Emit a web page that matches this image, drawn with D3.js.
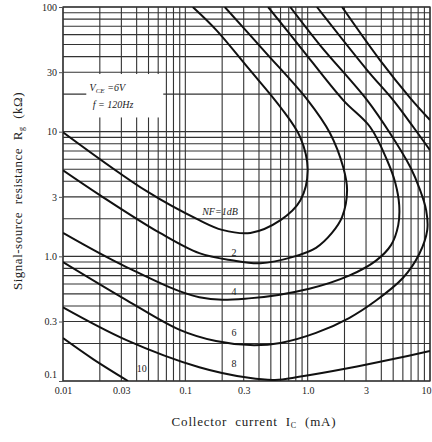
<!DOCTYPE html>
<html>
<head>
    <title>NF contours</title>
    <script src="https://d3js.org/d3.v7.min.js"></script>
    <style>
        body { margin: 0; background: #fff; }
        text { font-family: "Liberation Serif", "DejaVu Serif", serif; fill: #222; }
    </style>
</head>
<body>
<svg width="432" height="442"></svg>
<script>
    // tick labels
    const xTickVals = [0.01, 0.03, 0.1, 0.3, 1, 3, 10];
    const xTickText = ["0.01", "0.03", "0.1", "0.3", "1.0", "3", "10"];
    const yTickVals = [0.1, 0.3, 1, 3, 10, 30, 100];
    const yTickText = ["0.1", "0.3", "1.0", "3", "10", "30", "100"];

    // contour branches: [Ic (mA), Rg (kOhm)]
    const nf1 = [[0.01, 9.9], [0.049, 3.3], [0.13, 1.95], [0.2, 1.63], [0.34, 1.54], [0.6, 1.95],
        [0.87, 2.8], [1.0, 4.9], [0.87, 9.0], [0.6, 15.7], [0.33, 32], [0.18, 65], [0.115, 100]];
    const nf2 = [[0.01, 4.9], [0.02, 3.1], [0.062, 1.54], [0.13, 1.06], [0.24, 0.93], [0.41, 0.88],
        [0.76, 0.99], [1.17, 1.17], [1.58, 1.54], [1.91, 2.06], [2.1, 3.4], [1.95, 5.2], [1.52, 9.75],
        [1.0, 17.9], [0.45, 43.5], [0.21, 100]];
    const nf4 = [[0.01, 1.54], [0.033, 0.82], [0.13, 0.47], [0.33, 0.46], [1.03, 0.55], [2.18, 0.7],
        [3.6, 0.92], [4.8, 1.23], [5.5, 1.78], [5.6, 2.58], [5.2, 3.9], [4.46, 5.9], [3.24, 10.9],
        [1.95, 17.9], [0.87, 47.7], [0.475, 100]];
    const nf6 = [[0.01, 0.9], [0.033, 0.446], [0.09, 0.257], [0.178, 0.209], [0.34, 0.194], [0.6, 0.202],
        [1.17, 0.243], [2.18, 0.32], [3.6, 0.44], [6.0, 0.67], [8.15, 1.04], [9.5, 1.63], [9.3, 2.35],
        [8.3, 3.4], [6.9, 5.2], [4.7, 9.75], [3.06, 17.9], [1.26, 49.5], [0.72, 100]];
    const nf8Low = [[0.01, 0.39], [0.033, 0.213], [0.13, 0.129], [0.33, 0.106], [0.54, 0.102],
        [0.85, 0.108], [2.18, 0.127], [5.0, 0.15], [10, 0.174]];
    const nf8High = [[10, 7.1], [7.3, 10.9], [5.0, 17.9], [3.06, 31.2], [1.19, 100]];
    const nf10Low = [[0.01, 0.221], [0.0176, 0.15], [0.034, 0.1]];
    const nf10High = [[10, 12.4], [6.9, 18.6], [3.9, 37.5], [1.91, 100]];

    const branches = [nf1, nf2, nf4, nf6, nf8Low, nf8High, nf10Low, nf10High];

    // curve labels
    const labelText = ["NF=1dB", "2", "4", "6", "8", "10"];
    const labelIc = [0.192, 0.25, 0.25, 0.25, 0.25, 0.044];
    const labelRg = [2.27, 1.08, 0.518, 0.247, 0.137, 0.127];

    const pLeft = 63, pRight = 430, pTop = 7, pBottom = 381;

    const svg = d3.select("svg");
    const x = d3.scaleLog().domain([0.01, 10]).range([pLeft, pRight]);
    const y = d3.scaleLog().domain([0.1, 100]).range([pBottom, pTop]);

    // log-log grid paper
    const grid = svg.append("g");
    grid.selectAll(".vx")
        .data(x.ticks())
        .enter().append("line")
        .attr("x1", d => x(d)).attr("x2", d => x(d))
        .attr("y1", pTop).attr("y2", pBottom)
        .attr("stroke", "#333")
        .attr("stroke-width", 1.1);
    grid.selectAll(".hy")
        .data(y.ticks())
        .enter().append("line")
        .attr("y1", d => y(d)).attr("y2", d => y(d))
        .attr("x1", pLeft).attr("x2", pRight)
        .attr("stroke", "#333")
        .attr("stroke-width", 1.1);

    grid.append("rect")
        .attr("x", pLeft).attr("y", pTop)
        .attr("width", pRight - pLeft).attr("height", pBottom - pTop)
        .attr("fill", "none").attr("stroke", "#333").attr("stroke-width", 1.3);

    // annotation box
    const note = svg.append("g");
    note.append("rect")
        .attr("x", x(0.0155)).attr("y", y(29))
        .attr("width", x(0.066) - x(0.0155)).attr("height", y(13) - y(29))
        .attr("fill", "#fff");
    const t1 = note.append("text")
        .attr("x", x(0.0165)).attr("y", y(21))
        .style("font-size", "10px").style("font-style", "italic");
    t1.append("tspan").text("V");
    t1.append("tspan").attr("dy", 2).style("font-size", "7px").text("CE");
    t1.append("tspan").attr("dy", -2).text(" =6V");
    note.append("text")
        .attr("x", x(0.0175)).attr("y", y(15.6))
        .style("font-size", "10px").style("font-style", "italic")
        .text("f = 120Hz");

    // contours
    svg.append("clipPath").attr("id", "clip")
        .append("rect")
        .attr("x", pLeft).attr("y", pTop)
        .attr("width", pRight - pLeft).attr("height", pBottom - pTop);

    const line = d3.line()
        .x(d => x(d[0]))
        .y(d => y(d[1]))
        .curve(d3.curveCatmullRom.alpha(0.5));

    svg.append("g")
        .attr("clip-path", "url(#clip)")
        .selectAll("path")
        .data(branches)
        .enter().append("path")
        .attr("d", line)
        .attr("fill", "none")
        .attr("stroke", "#111")
        .attr("stroke-width", 2);

    svg.append("g")
        .selectAll("text")
        .data(labelText)
        .enter().append("text")
        .attr("x", (d, i) => x(labelIc[i]))
        .attr("y", (d, i) => y(labelRg[i]))
        .attr("dy", "0.35em")
        .attr("text-anchor", "middle")
        .style("font-size", "10px")
        .style("font-style", (d, i) => i === 0 ? "italic" : "normal")
        .text(d => d);

    // axes
    const xAxis = d3.axisBottom(x)
        .tickValues(xTickVals)
        .tickFormat((d, i) => xTickText[i])
        .tickSize(0)
        .tickPadding(6);
    svg.append("g")
        .attr("transform", "translate(0," + pBottom + ")")
        .call(xAxis)
        .call(g => g.select(".domain").remove())
        .selectAll("text")
        .style("font-family", "Liberation Serif")
        .style("font-size", "10px")
        .attr("fill", "#222")
        .attr("dx", d => d === 10 ? "-0.4em" : 0);

    const yAxis = d3.axisLeft(y)
        .tickValues(yTickVals)
        .tickFormat((d, i) => yTickText[i])
        .tickSize(4)
        .tickPadding(2);
    const yg = svg.append("g")
        .attr("transform", "translate(" + pLeft + ",0)")
        .call(yAxis)
        .call(g => g.select(".domain").remove());
    yg.selectAll("line").attr("stroke", "#555");
    yg.selectAll("text")
        .style("font-family", "Liberation Serif")
        .style("font-size", "10px")
        .attr("fill", "#222")
        .attr("dy", d => d === 0.1 ? "-0.4em" : "0.32em");

    // axis titles
    const xt = svg.append("text")
        .attr("x", 254).attr("y", 426)
        .attr("text-anchor", "middle")
        .style("font-size", "13px")
        .style("letter-spacing", "0.8px")
        .style("word-spacing", "4px");
    xt.append("tspan").text("Collector current  I");
    xt.append("tspan").attr("dy", 2).style("font-size", "8px").text("C");
    xt.append("tspan").attr("dy", -2).text("  (mA)");

    const yt = svg.append("text")
        .attr("transform", "translate(22,191) rotate(-90)")
        .attr("text-anchor", "middle")
        .style("font-size", "13px")
        .style("letter-spacing", "0.5px")
        .style("word-spacing", "4px");
    yt.append("tspan").text("Signal-source resistance  R");
    yt.append("tspan").attr("dy", 2).style("font-size", "8px").text("g");
    yt.append("tspan").attr("dy", -2).text("  (k\u03A9)");
</script>
</body>
</html>
